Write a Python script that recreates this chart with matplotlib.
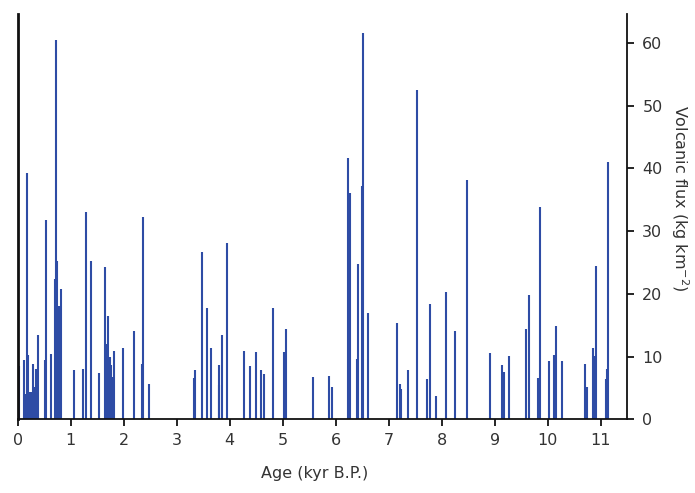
import matplotlib
matplotlib.use('Agg')
import matplotlib.pyplot as plt

# eruption ages (kyr B.P.) and volcanic flux (kg km^-2)
ages = [0.00, 0.03, 0.11, 0.13, 0.17, 0.19, 0.23, 0.25, 0.29, 0.31, 0.35, 0.37, 0.39,
        0.51, 0.53, 0.63, 0.70, 0.72, 0.75, 0.78, 0.81,
        1.06, 1.23, 1.29, 1.38, 1.53, 1.65, 1.68, 1.71, 1.735, 1.76, 1.78, 1.82,
        1.99, 2.19, 2.34, 2.37, 2.48,
        3.33, 3.35, 3.48, 3.58, 3.65, 3.79, 3.80, 3.85, 3.95,
        4.27, 4.38, 4.50, 4.59, 4.64, 4.82, 5.02, 5.06,
        5.58, 5.87, 5.94, 6.24, 6.27, 6.40, 6.43, 6.49, 6.51, 6.62,
        7.15, 7.21, 7.23, 7.37, 7.53, 7.72, 7.79, 7.89, 8.09, 8.26, 8.48,
        8.91, 9.14, 9.17, 9.27, 9.60, 9.65, 9.82, 9.86,
        10.02, 10.12, 10.16, 10.27, 10.70, 10.74, 10.85, 10.88, 10.92,
        11.10, 11.12, 11.15]
flux = [10.8, 8.5, 9.4, 4.1, 39.3, 10.3, 4.4, 4.4, 8.8, 5.2, 8.0, 8.0, 13.5,
        9.5, 31.8, 10.4, 22.4, 60.5, 25.2, 18.0, 20.7,
        7.9, 8.0, 33.0, 25.2, 7.4, 24.3, 12.0, 16.5, 10.0, 8.7, 6.8, 10.9,
        11.4, 14.0, 8.8, 32.2, 5.7,
        6.6, 7.8, 26.6, 17.7, 11.4, 5.4, 8.6, 13.4, 28.1,
        10.9, 8.5, 10.7, 7.9, 7.2, 17.7, 10.7, 14.4,
        6.8, 6.9, 5.2, 41.6, 36.1, 9.6, 24.8, 37.2, 61.6, 16.9,
        15.3, 5.6, 4.9, 7.8, 52.5, 6.5, 18.3, 3.7, 20.3, 14.1, 38.1,
        10.5, 8.7, 7.6, 10.1, 14.4, 19.8, 6.6, 33.8,
        9.3, 10.3, 14.8, 9.3, 8.8, 5.2, 11.4, 10.1, 24.4,
        6.5, 8.0, 41.0]

x_ticks = list(range(0, 12))
y_ticks = [0, 10, 20, 30, 40, 50, 60]

bar_color = '#2E4CA5'
text_color = '#333333'

fig = plt.figure(figsize=(6.95, 4.93), dpi=100)
ax = fig.add_axes([0.0255, 0.1495, 0.8767, 0.8221])

ax.vlines(ages, 0, flux, colors=bar_color, lw=1.5)

ax.set_xlim(0, 11.5)
ax.set_ylim(0, 64.6)

ax.spines['top'].set_visible(False)
ax.spines['left'].set_linewidth(2.0)
ax.spines['right'].set_linewidth(1.3)
ax.spines['bottom'].set_linewidth(1.3)
for s in ['left', 'right', 'bottom']:
    ax.spines[s].set_color('#111111')

ax.yaxis.tick_right()
ax.yaxis.set_label_position('right')
ax.set_xticks(x_ticks)
ax.set_yticks(y_ticks)
ax.tick_params(axis='x', direction='out', length=5, width=1.2, pad=5,
               labelsize=11.5, labelcolor=text_color)
ax.tick_params(axis='y', direction='out', length=5, width=1.2, pad=6,
               labelsize=11.5, labelcolor=text_color)

ax.set_xlabel('Age (kyr B.P.)', fontsize=11.5, color=text_color)
ax.xaxis.set_label_coords(0.487, -0.115)
ax.set_ylabel('Volcanic flux (kg km$^{-2}$)', fontsize=11.5, color=text_color,
              rotation=270, va='center')
ax.yaxis.set_label_coords(1.086, 0.545)

fig.savefig('out.png', dpi=100)
